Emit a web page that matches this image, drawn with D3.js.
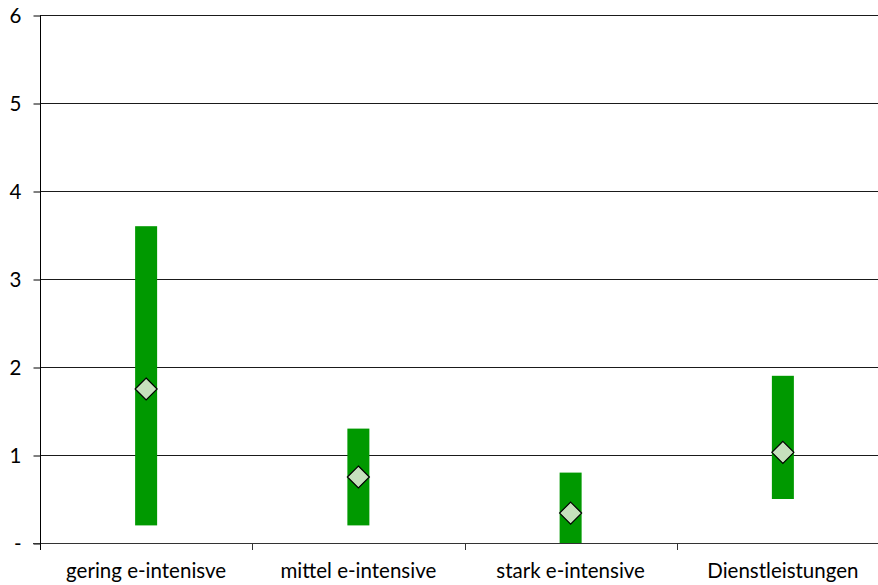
<!DOCTYPE html>
<html>
<head>
<meta charset="utf-8">
<script src="https://cdn.jsdelivr.net/npm/d3@7"></script>
<style>
  html, body { margin: 0; padding: 0; background: #fff; overflow: hidden; }
  svg text { font-family: Lato, "Open Sans", sans-serif; fill: #000; }
</style>
</head>
<body>
<svg id="chart" width="878" height="585"></svg>
<script>
// Ranges per sector: lower bound, upper bound and central estimate
const categories = ["gering e-intenisve", "mittel e-intensive", "stark e-intensive", "Dienstleistungen"];
const lowValues  = [0.2, 0.2, 0.0, 0.5];
const highValues = [3.6, 1.3, 0.8, 1.9];
const midValues  = [1.75, 0.75, 0.34, 1.03];
const yTicks = [0, 1, 2, 3, 4, 5, 6];
const yTickLabels = ["-", "1", "2", "3", "4", "5", "6"];

const svg = d3.select("#chart");
const plotLeft = 40, plotRight = 889, plotTop = 15, plotBottom = 543;
const fontSize = 20.5;

const x = d3.scaleBand().domain(categories).range([plotLeft, plotRight]);
const y = d3.scaleLinear().domain([0, 6]).range([plotBottom, plotTop]);

// horizontal gridlines
svg.append("g")
  .selectAll("line")
  .data(yTicks.filter(d => d > 0))
  .join("line")
  .attr("x1", plotLeft).attr("x2", plotRight)
  .attr("y1", d => y(d) + 0.5).attr("y2", d => y(d) + 0.5)
  .attr("stroke", "#1a1a1a").attr("stroke-width", 1);

// y axis
const yAxis = d3.axisLeft(y)
  .tickValues(yTicks)
  .tickFormat((d, i) => yTickLabels[i])
  .tickSize(7)
  .tickPadding(12);
const gy = svg.append("g").attr("transform", `translate(${plotLeft + 0.5},0.5)`).call(yAxis);
gy.select(".domain").attr("stroke", "#000").attr("d", `M0,${plotTop}V${plotBottom}`);
gy.selectAll(".tick line").attr("stroke", "#000");
gy.selectAll(".tick text").attr("font-size", fontSize).style("font-family", "Lato, 'Open Sans', sans-serif");

// x axis with tick marks between categories
const boundaries = categories.slice(1).map(c => x(c));
const gx = svg.append("g");
gx.append("line")
  .attr("x1", plotLeft - 7).attr("x2", plotRight)
  .attr("y1", plotBottom + 0.5).attr("y2", plotBottom + 0.5)
  .attr("stroke", "#333");
gx.append("line")
  .attr("x1", plotLeft + 0.5).attr("x2", plotLeft + 0.5)
  .attr("y1", plotBottom).attr("y2", plotBottom + 7)
  .attr("stroke", "#000");
gx.selectAll("line.sep")
  .data(boundaries)
  .join("line")
  .attr("class", "sep")
  .attr("x1", d => Math.round(d) + 0.5).attr("x2", d => Math.round(d) + 0.5)
  .attr("y1", plotBottom).attr("y2", plotBottom + 7)
  .attr("stroke", "#333");
gx.selectAll("text")
  .data(categories)
  .join("text")
  .attr("x", d => x(d) + x.bandwidth() / 2)
  .attr("y", plotBottom + 35)
  .attr("text-anchor", "middle")
  .attr("font-size", fontSize)
  .text(d => d);

// range bars
const barW = 22;
svg.append("g")
  .selectAll("rect")
  .data(categories)
  .join("rect")
  .attr("x", d => x(d) + x.bandwidth() / 2 - barW / 2)
  .attr("width", barW)
  .attr("y", (d, i) => y(highValues[i]))
  .attr("height", (d, i) => y(lowValues[i]) - y(highValues[i]))
  .attr("fill", "#009900");

// central estimate markers
const half = 11;
svg.append("g")
  .selectAll("path")
  .data(categories)
  .join("path")
  .attr("transform", (d, i) => `translate(${x(d) + x.bandwidth() / 2},${y(midValues[i])})`)
  .attr("d", `M0,${-half}L${half},0L0,${half}L${-half},0Z`)
  .attr("fill", "#c6e0bd")
  .attr("stroke", "#000")
  .attr("stroke-width", 1.2);
</script>
</body>
</html>
